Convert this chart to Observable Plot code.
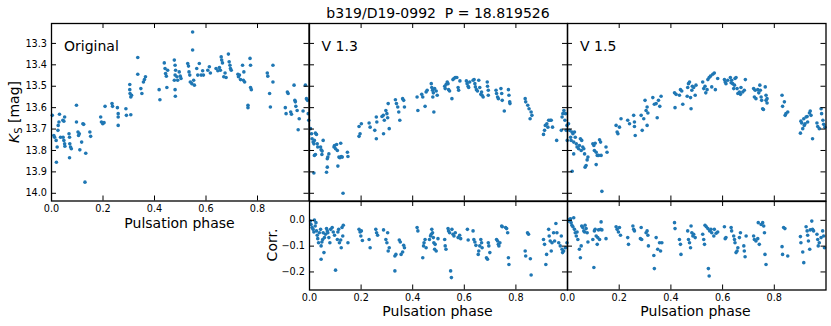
<!DOCTYPE html>
<html>
<head>
<meta charset="utf-8">
<script src="https://cdn.jsdelivr.net/npm/d3@7"></script>
<script src="https://cdn.jsdelivr.net/npm/@observablehq/plot@0.6"></script>
<style>
  html, body { margin: 0; padding: 0; background: #fff; }
  #chart { position: relative; width: 831px; height: 326px; overflow: hidden; font-family: "DejaVu Sans", sans-serif; color: #000; }
  .pane { position: absolute; }
  .pane svg { overflow: visible; max-width: none; }
  .lbl { position: absolute; font-size: 14px; line-height: 16px; white-space: pre; }
</style>
</head>
<body>
<div id="chart"></div>
<script>
// ---------------- data ----------------
const titleText = "b319/D19-0992  P = 18.819526";
const panelNames = ["Original", "V 1.3", "V 1.5"];
const xLabel = "Pulsation phase";
const corrLabel = "Corr.";

const xTicks = [0.0, 0.2, 0.4, 0.6, 0.8];
const magTicks = [13.3, 13.4, 13.5, 13.6, 13.7, 13.8, 13.9, 14.0];
const corrTicks = [0.0, -0.1, -0.2];

const phaseOrig = [0.003,0.009,0.012,0.018,0.019,0.022,0.025,0.026,0.029,0.031,
0.035,0.044,0.048,0.051,0.045,0.048,0.051,0.052,0.068,0.070,
0.070,0.071,0.074,0.077,0.097,0.097,0.103,0.105,0.108,0.110,
0.117,0.122,0.125,0.130,0.133,0.149,0.152,0.191,0.194,0.199,
0.204,0.208,0.235,0.237,0.256,0.259,0.259,0.259,0.289,0.291,
0.304,0.304,0.305,0.308,0.311,0.308,0.335,0.335,0.347,0.351,
0.357,0.361,0.365,0.418,0.421,0.438,0.441,0.443,0.446,0.448,
0.451,0.477,0.480,0.482,0.480,0.477,0.480,0.481,0.487,0.490,
0.496,0.500,0.503,0.529,0.532,0.534,0.537,0.539,0.545,0.548,
0.548,0.552,0.555,0.564,0.568,0.574,0.581,0.587,0.590,0.607,
0.613,0.617,0.639,0.646,0.652,0.656,0.659,0.661,0.664,0.669,
0.674,0.678,0.687,0.690,0.693,0.695,0.698,0.724,0.726,0.730,
0.734,0.742,0.747,0.745,0.750,0.763,0.763,0.771,0.773,0.773,
0.776,0.838,0.840,0.847,0.850,0.860,0.860,0.908,0.911,0.916,
0.919,0.929,0.932,0.942,0.945,0.947,0.949,0.954,0.958,0.962,
0.977,0.986,0.990,0.994,0.997,0.999];
const magOrig = [13.636,13.730,13.738,13.753,13.855,13.784,13.706,13.683,13.667,13.631,
13.738,13.659,13.663,13.644,13.738,13.753,13.769,13.780,13.722,13.738,
13.834,13.769,13.784,13.792,13.589,13.667,13.714,13.730,13.722,13.797,
13.761,13.675,13.678,13.948,13.813,13.714,13.734,13.644,13.667,13.675,
13.670,13.594,13.581,13.594,13.600,13.628,13.644,13.683,13.605,13.636,
13.492,13.516,13.534,13.550,13.542,13.633,13.366,13.444,13.511,13.534,
13.480,13.469,13.456,13.516,13.563,13.391,13.417,13.441,13.453,13.506,
13.425,13.378,13.402,13.425,13.448,13.472,13.516,13.547,13.456,13.472,
13.433,13.453,13.464,13.394,13.406,13.433,13.448,13.480,13.488,13.247,
13.331,13.472,13.495,13.417,13.448,13.394,13.448,13.428,13.448,13.425,
13.409,13.438,13.417,13.428,13.413,13.425,13.363,13.378,13.391,13.456,
13.438,13.459,13.350,13.386,13.402,13.417,13.425,13.444,13.456,13.448,
13.469,13.402,13.433,13.472,13.480,13.589,13.600,13.370,13.402,13.506,
13.516,13.438,13.453,13.534,13.597,13.402,13.480,13.600,13.628,13.527,
13.534,13.620,13.631,13.495,13.566,13.573,13.594,13.613,13.703,13.652,
13.616,13.495,13.558,13.566,13.628,13.659];

const phaseV13 = [0.004,0.008,0.010,0.014,0.017,0.019,0.023,0.027,0.030,0.032,
0.019,0.023,0.017,0.043,0.045,0.049,0.053,0.048,0.066,0.069,
0.069,0.071,0.075,0.095,0.097,0.101,0.105,0.108,0.110,0.114,
0.118,0.123,0.127,0.121,0.130,0.147,0.149,0.192,0.192,0.196,
0.201,0.231,0.235,0.253,0.259,0.259,0.261,0.287,0.281,0.286,
0.290,0.296,0.300,0.303,0.305,0.309,0.333,0.337,0.342,0.346,
0.350,0.361,0.365,0.368,0.417,0.420,0.435,0.439,0.448,0.452,
0.456,0.472,0.474,0.477,0.480,0.482,0.478,0.485,0.491,0.495,
0.524,0.526,0.530,0.534,0.537,0.539,0.543,0.552,0.556,0.560,
0.565,0.571,0.576,0.578,0.583,0.608,0.611,0.615,0.617,0.621,
0.634,0.638,0.641,0.643,0.647,0.651,0.656,0.660,0.664,0.667,
0.669,0.673,0.689,0.690,0.693,0.693,0.723,0.725,0.729,0.732,
0.742,0.745,0.747,0.755,0.771,0.773,0.776,0.777,0.836,0.838,
0.846,0.851,0.855,0.859,0.862,0.907,0.911,0.914,0.920,0.924,
0.927,0.933,0.937,0.942,0.958,0.976,0.979,0.982,0.986,0.992,
0.998,0.990,0.995,0.999];
const magV13 = [13.698,13.722,13.745,13.761,13.769,13.753,13.719,13.725,13.769,13.784,
13.823,13.819,13.905,13.784,13.797,13.803,13.753,13.819,13.902,13.878,
13.839,13.831,13.816,13.784,13.777,13.792,13.772,13.800,13.873,13.831,
13.834,13.828,13.831,13.766,14.000,13.808,13.828,13.688,13.734,13.722,
13.675,13.672,13.691,13.706,13.745,13.644,13.667,13.722,13.641,13.636,
13.659,13.613,13.628,13.647,13.581,13.698,13.563,13.581,13.597,13.620,
13.659,13.558,13.566,13.597,13.550,13.613,13.538,13.550,13.594,13.527,
13.519,13.488,13.506,13.519,13.531,13.620,13.550,13.511,13.522,13.542,
13.500,13.511,13.491,13.480,13.488,13.516,13.522,13.558,13.469,13.464,
13.459,13.459,13.506,13.519,13.475,13.475,13.488,13.500,13.506,13.480,
13.472,13.469,13.488,13.503,13.516,13.522,13.472,13.506,13.538,13.527,
13.542,13.550,13.480,13.500,13.519,13.542,13.519,13.534,13.550,13.558,
13.511,13.534,13.566,13.616,13.516,13.542,13.573,13.581,13.558,13.573,
13.589,13.605,13.652,13.620,13.636,13.725,13.706,13.683,13.675,13.691,
13.659,13.659,13.659,13.691,13.753,13.706,13.644,13.628,13.613,13.628,
13.683,13.659,13.706,13.753];

const phaseV15 = [0.004,0.008,0.012,0.014,0.017,0.021,0.024,0.027,0.030,0.018,
0.024,0.034,0.037,0.043,0.046,0.050,0.053,0.055,0.059,0.063,
0.066,0.068,0.072,0.076,0.079,0.098,0.102,0.104,0.107,0.111,
0.115,0.111,0.120,0.124,0.128,0.130,0.133,0.149,0.153,0.188,
0.192,0.195,0.201,0.207,0.233,0.240,0.256,0.259,0.259,0.262,
0.285,0.289,0.295,0.300,0.304,0.308,0.311,0.308,0.330,0.336,
0.343,0.347,0.352,0.357,0.362,0.414,0.416,0.420,0.433,0.437,
0.442,0.446,0.463,0.465,0.468,0.472,0.476,0.478,0.481,0.483,
0.488,0.494,0.497,0.523,0.527,0.532,0.535,0.540,0.543,0.548,
0.553,0.558,0.562,0.568,0.572,0.581,0.607,0.610,0.613,0.620,
0.630,0.633,0.635,0.639,0.643,0.646,0.648,0.652,0.656,0.659,
0.665,0.669,0.671,0.678,0.684,0.688,0.720,0.723,0.726,0.729,
0.736,0.740,0.744,0.746,0.749,0.751,0.755,0.758,0.765,0.768,
0.768,0.772,0.772,0.830,0.832,0.839,0.842,0.845,0.852,0.901,
0.903,0.906,0.910,0.914,0.916,0.919,0.923,0.927,0.929,0.936,
0.939,0.942,0.948,0.965,0.968,0.974,0.981,0.983,0.988,0.991,
0.996];
const magV15 = [13.675,13.706,13.738,13.753,13.714,13.722,13.761,13.714,13.738,13.897,
13.816,13.769,13.784,13.792,13.777,13.745,13.800,13.753,13.784,13.792,
13.816,13.878,13.870,13.844,13.831,13.769,13.777,13.800,13.766,13.808,
13.823,13.866,13.823,13.750,13.761,13.823,13.991,13.784,13.808,13.683,
13.714,13.722,13.691,13.652,13.659,13.675,13.636,13.667,13.688,13.730,
13.636,13.706,13.652,13.566,13.613,13.597,13.625,13.683,13.553,13.584,
13.581,13.647,13.566,13.594,13.547,13.531,13.600,13.538,13.542,13.516,
13.522,13.584,13.547,13.506,13.488,13.480,13.553,13.605,13.519,13.500,
13.506,13.542,13.495,13.480,13.511,13.500,13.531,13.516,13.469,13.459,
13.453,13.503,13.444,13.438,13.516,13.464,13.469,13.480,13.488,13.472,
13.459,13.484,13.472,13.488,13.511,13.495,13.464,13.459,13.511,13.534,
13.527,13.538,13.506,13.527,13.519,13.469,13.511,13.550,13.519,13.558,
13.516,13.531,13.495,13.519,13.550,13.566,13.605,13.609,13.503,13.542,
13.566,13.558,13.578,13.542,13.594,13.573,13.636,13.628,13.620,13.719,
13.663,13.672,13.698,13.652,13.683,13.675,13.644,13.641,13.667,13.625,
13.616,13.636,13.745,13.672,13.688,13.698,13.605,13.628,13.659,13.678,
13.691];

const phaseC13 = [0.004,0.006,0.010,0.014,0.017,0.019,0.022,0.025,0.027,0.030,
0.032,0.035,0.038,0.043,0.045,0.048,0.051,0.053,0.056,0.058,
0.045,0.062,0.066,0.069,0.071,0.075,0.079,0.082,0.088,0.092,
0.097,0.101,0.108,0.110,0.113,0.116,0.121,0.123,0.126,0.129,
0.131,0.149,0.192,0.196,0.199,0.201,0.205,0.231,0.235,0.257,
0.260,0.264,0.287,0.296,0.300,0.303,0.305,0.309,0.331,0.331,
0.335,0.348,0.352,0.355,0.361,0.365,0.368,0.417,0.420,0.439,
0.442,0.444,0.448,0.452,0.465,0.469,0.472,0.474,0.477,0.480,
0.482,0.485,0.487,0.491,0.498,0.524,0.526,0.529,0.537,0.539,
0.543,0.547,0.550,0.552,0.556,0.560,0.565,0.576,0.582,0.586,
0.612,0.615,0.634,0.637,0.641,0.645,0.654,0.656,0.660,0.664,
0.667,0.669,0.686,0.690,0.693,0.695,0.699,0.725,0.729,0.732,
0.734,0.738,0.745,0.747,0.760,0.764,0.768,0.771,0.773,0.836,
0.838,0.845,0.849,0.856,0.859,0.907,0.911,0.916,0.919,0.927,
0.929,0.933,0.937,0.940,0.946,0.950,0.955,0.959,0.966,0.972,
0.976,0.979,0.981,0.985,0.992,0.998];
const corrC13 = [-0.003,-0.016,-0.028,-0.035,-0.045,0.001,-0.022,-0.009,-0.041,-0.058,
-0.071,-0.087,-0.048,-0.035,-0.099,-0.084,-0.074,-0.048,-0.125,-0.067,
-0.151,-0.054,-0.032,-0.041,-0.048,-0.067,-0.087,-0.035,-0.028,-0.045,
-0.058,-0.193,-0.074,-0.045,-0.035,-0.087,-0.076,-0.106,-0.028,-0.061,
-0.019,-0.087,-0.035,-0.045,-0.061,-0.041,-0.078,-0.074,-0.106,-0.035,
-0.048,-0.058,-0.037,-0.074,-0.087,-0.048,-0.119,-0.106,-0.196,-0.138,
-0.132,-0.076,-0.084,-0.132,-0.123,-0.097,-0.106,-0.028,-0.041,-0.145,
-0.099,-0.087,-0.074,-0.106,-0.074,-0.061,-0.054,-0.035,-0.048,-0.067,
-0.087,-0.112,-0.093,-0.119,-0.071,-0.074,-0.099,-0.112,-0.032,-0.041,
-0.048,-0.196,-0.222,-0.035,-0.054,-0.061,-0.048,-0.067,-0.058,-0.071,
-0.035,-0.076,-0.041,-0.074,-0.084,-0.097,-0.132,-0.119,-0.099,-0.074,
-0.087,-0.106,-0.145,-0.151,-0.087,-0.099,-0.125,-0.074,-0.080,-0.093,
-0.099,-0.087,-0.022,-0.025,-0.028,-0.032,-0.048,-0.145,-0.171,-0.119,
-0.138,-0.048,-0.054,-0.149,-0.212,-0.074,-0.093,-0.171,-0.132,-0.035,
-0.061,-0.080,-0.119,-0.087,-0.048,-0.080,-0.012,-0.048,-0.087,-0.099,
-0.061,-0.112,-0.125,-0.119,-0.106,-0.087];

const phaseC15 = [0.004,0.008,0.012,0.014,0.017,0.021,0.024,0.027,0.030,0.034,
0.037,0.040,0.046,0.050,0.053,0.055,0.059,0.063,0.066,0.068,
0.072,0.076,0.079,0.098,0.102,0.104,0.107,0.111,0.115,0.117,
0.120,0.124,0.128,0.130,0.133,0.149,0.188,0.192,0.197,0.201,
0.205,0.233,0.236,0.253,0.256,0.259,0.282,0.285,0.287,0.304,
0.308,0.311,0.313,0.334,0.336,0.343,0.349,0.356,0.360,0.365,
0.414,0.416,0.433,0.437,0.439,0.465,0.468,0.472,0.476,0.478,
0.481,0.485,0.488,0.494,0.523,0.527,0.530,0.532,0.537,0.543,
0.545,0.548,0.550,0.555,0.558,0.566,0.568,0.575,0.581,0.607,
0.610,0.613,0.633,0.635,0.643,0.646,0.648,0.652,0.656,0.659,
0.665,0.669,0.682,0.684,0.687,0.691,0.720,0.723,0.729,0.736,
0.738,0.742,0.749,0.755,0.759,0.762,0.764,0.768,0.830,0.832,
0.836,0.841,0.852,0.901,0.903,0.910,0.914,0.923,0.927,0.929,
0.932,0.937,0.939,0.945,0.948,0.952,0.965,0.968,0.970,0.974,
0.981,0.987,0.991,0.994];
const corrC15 = [-0.003,0.004,0.006,-0.009,-0.019,-0.025,0.010,-0.035,-0.048,-0.061,
-0.045,-0.074,-0.112,-0.145,-0.099,-0.022,-0.028,-0.041,-0.045,-0.019,
-0.032,-0.048,-0.084,-0.074,-0.183,-0.041,-0.035,-0.061,-0.093,-0.067,
-0.037,-0.074,-0.035,-0.006,-0.037,-0.071,-0.025,-0.035,-0.045,-0.028,
-0.058,-0.067,-0.093,-0.022,-0.035,-0.041,-0.071,-0.028,-0.074,-0.048,
-0.041,-0.058,-0.099,-0.136,-0.187,-0.067,-0.112,-0.087,-0.119,-0.087,
-0.009,-0.032,-0.074,-0.093,-0.132,-0.041,-0.074,-0.087,-0.106,-0.022,
-0.048,-0.061,-0.054,-0.067,-0.054,-0.074,-0.093,-0.019,-0.025,-0.032,
-0.187,-0.216,-0.041,-0.035,-0.048,-0.061,-0.035,-0.050,-0.045,-0.025,
-0.071,-0.067,-0.028,-0.041,-0.061,-0.074,-0.087,-0.125,-0.119,-0.106,
-0.067,-0.048,-0.099,-0.119,-0.141,-0.061,-0.061,-0.074,-0.080,-0.071,
-0.009,-0.093,-0.016,-0.009,-0.022,-0.048,-0.132,-0.171,-0.102,-0.132,
-0.028,-0.032,-0.138,-0.063,-0.087,-0.123,-0.164,-0.025,-0.041,-0.058,
-0.080,-0.112,-0.037,-0.003,-0.035,-0.041,-0.054,-0.074,-0.099,-0.087,
-0.067,-0.041,-0.061,-0.106];

// ---------------- drawing ----------------
const magDomain = [13.207, 14.036];
const corrDomain = [-0.270, 0.073];
const phaseDomain = [0, 1];
const blue = "#1f77b4";
const f1 = d3.format(".1f");
const chart = document.getElementById("chart");

function zip(xs, ys) { return xs.map((x, i) => ({x, y: ys[i]})); }

function panel(o) {
  const {left, top, fw, fh, mL = 0, mR = 0, mT = 0, mB = 0} = o;
  const tl = 5;
  const marks = [
    Plot.dot(zip(o.px, o.py), {x: "x", y: "y", r: 1.8, fill: blue, stroke: "none"}),
    Plot.tickX(xTicks, {x: d => d, insetTop: fh - tl, stroke: "black", strokeWidth: 1}),
    Plot.tickX(xTicks, {x: d => d, insetBottom: fh - tl, stroke: "black", strokeWidth: 1}),
    Plot.tickY(o.yTicks, {y: d => d, insetRight: fw - tl, stroke: "black", strokeWidth: 1}),
    Plot.tickY(o.yTicks, {y: d => d, insetLeft: fw - tl, stroke: "black", strokeWidth: 1}),
    Plot.frame({stroke: "black", strokeWidth: 1.3})
  ];
  if (o.xLabels) marks.push(Plot.axisX({ticks: xTicks, anchor: "bottom", tickSize: 0, tickPadding: 4, tickFormat: f1, fontSize: 9.7, label: null}));
  if (o.yLabels) marks.push(Plot.axisY({ticks: o.yTicks, anchor: "left", tickSize: 0, tickPadding: 4.5, tickFormat: f1, fontSize: 9.7, label: null}));
  const svg = Plot.plot({
    width: fw + mL + mR,
    height: fh + mT + mB,
    marginLeft: mL, marginRight: mR, marginTop: mT, marginBottom: mB,
    x: {domain: phaseDomain, axis: null, label: null},
    y: {domain: o.yDomain, reverse: o.reverse, axis: null, label: null},
    style: {fontFamily: "DejaVu Sans, sans-serif", overflow: "visible", background: "transparent", maxWidth: "none", color: "black"},
    marks
  });
  const div = document.createElement("div");
  div.className = "pane";
  div.style.left = (left - mL) + "px";
  div.style.top = (top - mT) + "px";
  div.appendChild(svg);
  chart.appendChild(div);
}

// frames (pixel geometry only)
const topY = 23, topH = 177.5, botY = 200.5, botH = 88.5;
const cols = [[51, 257.5], [308.5, 258], [566.5, 258.5]];

panel({left: cols[0][0], top: topY, fw: cols[0][1], fh: topH, px: phaseOrig, py: magOrig, yDomain: magDomain, reverse: true, yTicks: magTicks, xLabels: true, yLabels: true});
panel({left: cols[1][0], top: topY, fw: cols[1][1], fh: topH, px: phaseV13, py: magV13, yDomain: magDomain, reverse: true, yTicks: magTicks});
panel({left: cols[2][0], top: topY, fw: cols[2][1], fh: topH, px: phaseV15, py: magV15, yDomain: magDomain, reverse: true, yTicks: magTicks});
panel({left: cols[1][0], top: botY, fw: cols[1][1], fh: botH, px: phaseC13, py: corrC13, yDomain: corrDomain, yTicks: corrTicks, xLabels: true, yLabels: true});
panel({left: cols[2][0], top: botY, fw: cols[2][1], fh: botH, px: phaseC15, py: corrC15, yDomain: corrDomain, yTicks: corrTicks, xLabels: true});

function label(html, x, y, opts = {}) {
  const d = document.createElement("div");
  d.className = "lbl";
  d.innerHTML = html;
  d.style.left = x + "px";
  d.style.top = y + "px";
  if (opts.center) d.style.transform = "translate(-50%, -50%)" + (opts.rotate ? " rotate(-90deg)" : "");
  chart.appendChild(d);
  return d;
}
// title
label(titleText, 438, 12.5, {center: true});
// panel names
label(panelNames[0], 64, 37.5);
label(panelNames[1], 321.5, 37.5);
label(panelNames[2], 580, 37.5);
// axis labels
label(xLabel, 179.5, 223, {center: true});
label(xLabel, 437.5, 311, {center: true});
label(xLabel, 695.5, 311, {center: true});
label(corrLabel, 272, 245, {center: true, rotate: true});
label('<i>K</i><sub style="font-size:10px;vertical-align:-3px;line-height:0">S</sub> [mag]', 13.5, 112, {center: true, rotate: true});
</script>
</body>
</html>
